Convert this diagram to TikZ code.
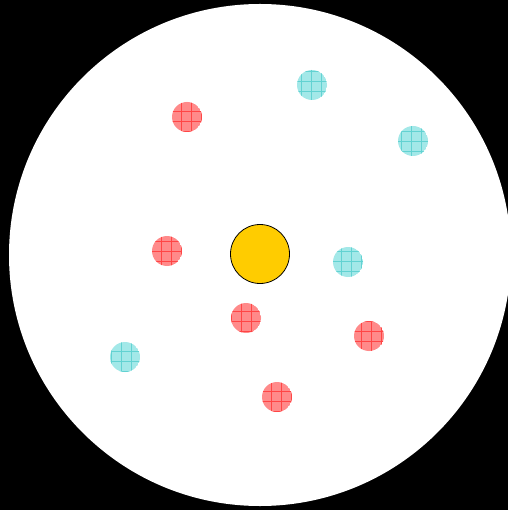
\documentclass[tikz,border=0pt]{standalone}
\usetikzlibrary{calc}
\definecolor{sunyellow}{HTML}{FFCC00}
\definecolor{redfill}{HTML}{FF8A8A}
\definecolor{redline}{HTML}{FF4545}
\definecolor{cyanfill}{HTML}{A3E8E8}
\definecolor{cyanline}{HTML}{62D2D2}
\begin{document}
\begin{tikzpicture}[x=1pt,y=-1pt,
    gridline/.style={line width=0.6pt}]
  \clip (0,0) rectangle (508,510);
  \fill[black] (0,0) rectangle (508,510);
  \coordinate (C) at (260,255);
  \fill[white] (C) circle (251);
  % red ones
  \foreach \px/\py in {187/117,167/251,246/318,369/336,277/397}{
    \begin{scope}
      \clip (\px,\py) circle (15);
      \fill[redfill] (\px,\py) circle (15);
      \draw[gridline,redline,step=10pt,xshift=1.7pt,yshift=-1.7pt] (\px-25,\py-25) grid (\px+25,\py+25);
    \end{scope}
  }
  % cyan ones
  \foreach \px/\py in {312/85,413/141,348/262,125/357}{
    \begin{scope}
      \clip (\px,\py) circle (15);
      \fill[cyanfill] (\px,\py) circle (15);
      \draw[gridline,cyanline,step=10pt,xshift=1.7pt,yshift=-1.7pt] (\px-25,\py-25) grid (\px+25,\py+25);
    \end{scope}
  }
  \filldraw[fill=sunyellow,draw=black,line width=0.8pt] (260,254) circle (29.5);
\end{tikzpicture}
\end{document}
